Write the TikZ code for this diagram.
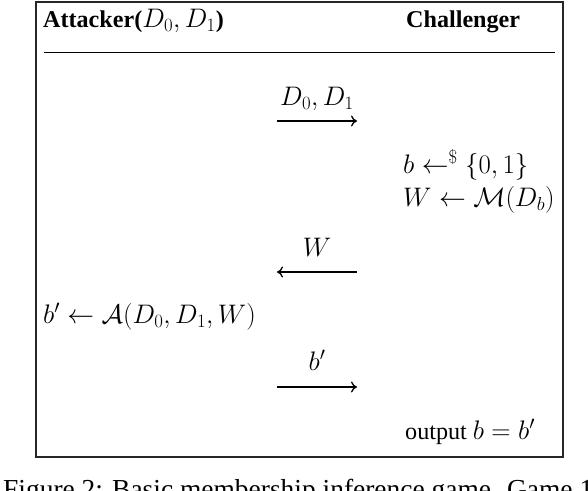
\RequirePackage{fix-cm}
\documentclass[tikz,border=0pt]{standalone}
\usepackage[no-math]{fontspec}
\setmainfont{Liberation Serif}[Scale=0.9]
\usetikzlibrary{arrows.meta}
\begin{document}
\begin{tikzpicture}[x=1pt,y=-1pt,
  font=\fontsize{26.8}{32}\selectfont,
  lbl/.style={anchor=base west, inner sep=0pt},
  mid/.style={anchor=base, inner sep=0pt},
  msg/.style={line width=1.3pt, -{Computer Modern Rightarrow[length=6pt,width=11pt]}}]
\useasboundingbox (0,0) rectangle (588,490);
% frame and header rule
\draw[line width=2pt, draw=black!85] (36,1.5) rectangle (563,456.5);
\coordinate (rl) at (43.5,52.5);
\coordinate (rr) at (555,52.5);
\draw[line width=1.5pt] (rl) -- (rr);
% headers
\node[lbl] (att) at (43,27.5) {\textbf{Attacker(}$D_0,D_1$\textbf{)}};
\node[lbl] (chal) at (406,27.5) {\textbf{Challenger}};
% message 1
\coordinate (m1l) at (277,121);
\coordinate (m1r) at (357,121);
\node[mid] (m1t) at (317,105) {$D_0,D_1$};
\draw[msg] (m1l) -- (m1r);
% challenger steps
\node[lbl] (c1) at (403,173) {$b \leftarrow^{\$} \{0,1\}$};
\node[lbl] (c2) at (403,206) {$W \leftarrow \mathcal{M}(D_b)$};
% message 2
\coordinate (m2l) at (277,272);
\coordinate (m2r) at (357,272);
\node[mid] (m2t) at (317,256) {$W$};
\draw[msg] (m2r) -- (m2l);
% attacker step
\node[lbl] (a1) at (43,323) {$b' \leftarrow \mathcal{A}(D_0,D_1,W)$};
% message 3
\coordinate (m3l) at (277,387);
\coordinate (m3r) at (357,387);
\node[mid] (m3t) at (317,370) {$b'$};
\draw[msg] (m3l) -- (m3r);
% output
\node[lbl] (out) at (405,439) {output $b=b'$};
% caption (cut off at the bottom, as in the reference)
\node[lbl, font=\fontsize{30.5}{36}\selectfont] (cap) at (3,498) {Figure 2: Basic membership inference game. Game 1};
\end{tikzpicture}
\end{document}
